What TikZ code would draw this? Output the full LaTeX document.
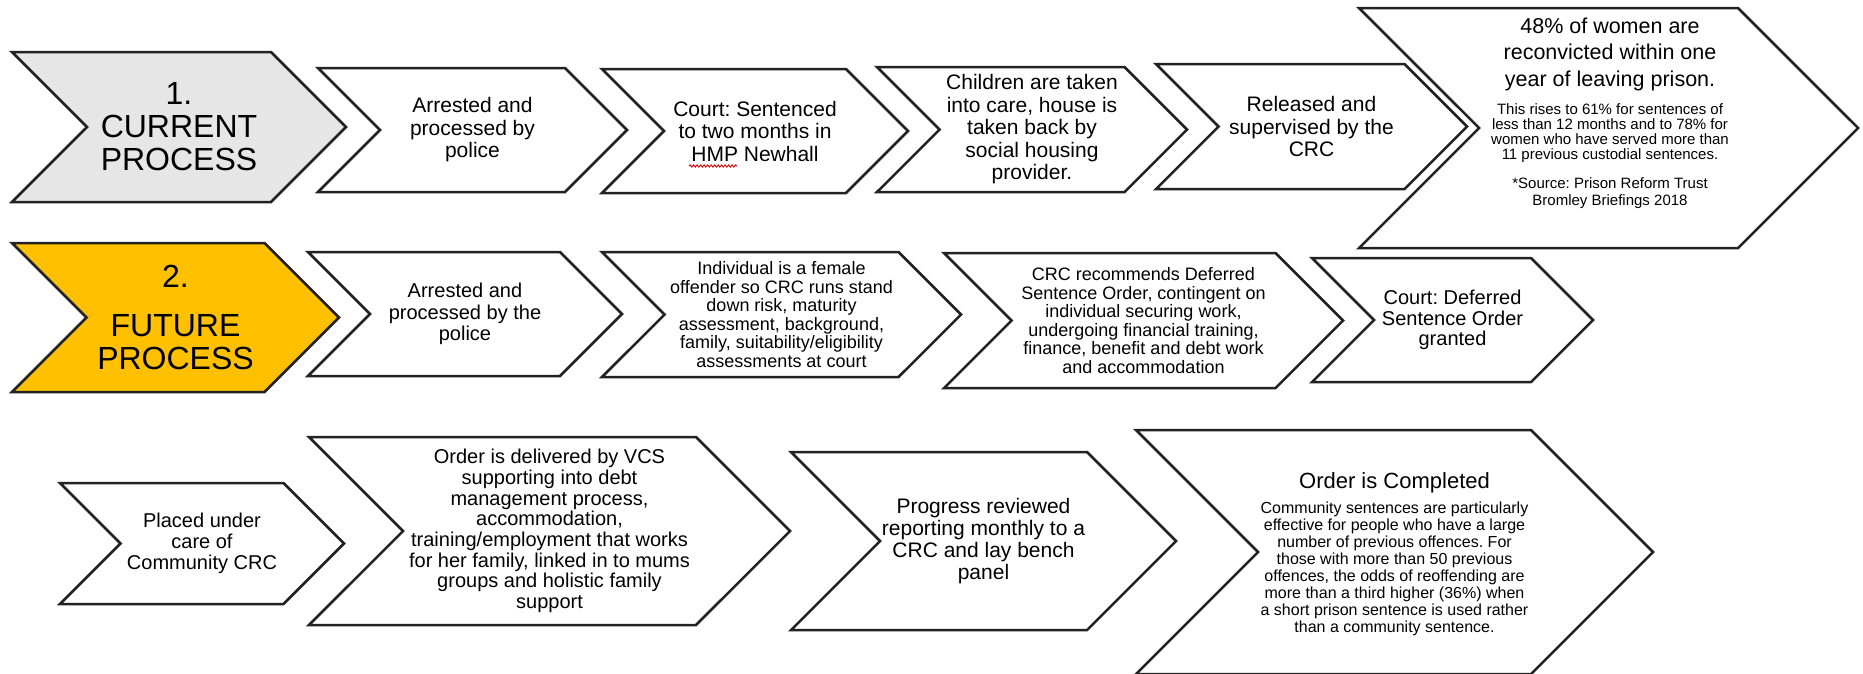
\documentclass[tikz,border=0pt]{standalone}
\usepackage{fontspec}
\setmainfont{Liberation Sans}
\usetikzlibrary{shapes.symbols,positioning,decorations.pathmorphing}
\frenchspacing

\definecolor{headgray}{HTML}{E7E6E6}
\definecolor{headgold}{HTML}{FFC000}
\definecolor{edge}{HTML}{222222}

\tikzset{
  chev/.style = {shape = signal, signal from = west, signal to = east,
    draw = edge, line width = 2.5pt, fill = white, align = center,
    inner sep = 0pt},
  fsize/.style 2 args = {font = \fontsize{#1}{#2}\selectfont},
  txt/.style = {align = center, inner sep = 0pt},
  spellwave/.style = {draw = red!85!black, line width = 0.9pt, decorate,
    decoration = {snake, amplitude = 1.1pt, segment length = 3.5pt}}
}

\begin{document}
\begin{tikzpicture}[x = 1pt, y = -1pt]
  \useasboundingbox (0, 0) rectangle (1863, 673);

  % 1. current process
  \node[chev, fill = headgray, minimum width = 334, minimum height = 150, fsize = {32}{33}] (cur) at (179, 127) {1.\\CURRENT\\PROCESS};
  \node[chev, minimum width = 309, minimum height = 124, fsize = {21}{22.5}] (curArrest) at (472.5, 130) {Arrested and\\processed by\\police};
  \node[chev, minimum width = 306, minimum height = 124, fsize = {21}{22.5}] (curCourt) at (755, 131) {Court: Sentenced\\to two months in\\HMP Newhall};
  \draw[spellwave] (689, 166) -- (737, 166);
  \node[chev, minimum width = 310, minimum height = 125, fsize = {21}{22.5}] (curCare) at (1032, 129.5) {Children are taken\\into care, house is\\taken back by\\social housing\\provider.};
  \node[chev, minimum width = 311, minimum height = 125, fsize = {21}{22.5}] (curRelease) at (1311.5, 126.5) {Released and\\supervised by the\\CRC};
  \node[chev, minimum width = 499, minimum height = 240] (curStat) at (1608.5, 128) {};
  \node[txt, fsize = {21.5}{26.5}, anchor = north] (curStatHead) at (1610, 17.5) {48\% of women are\\reconvicted within one\\year of leaving prison.};
  \node[txt, fsize = {15}{14.8}, below = 13pt of curStatHead] (curStatBody) {This rises to 61\% for sentences of\\less than 12 months and to 78\% for\\women who have served more than\\11 previous custodial sentences.};
  \node[txt, fsize = {15}{16.6}, below = 15pt of curStatBody] (curStatSrc) {*Source: Prison Reform Trust\\Bromley Briefings 2018};

  % 2. future process
  \node[chev, fill = headgold, minimum width = 327, minimum height = 149, fsize = {32}{33}] (fut) at (175.5, 317.5) {2.\\[16pt]FUTURE\\PROCESS};
  \node[chev, minimum width = 314, minimum height = 124, fsize = {20}{21.5}] (futArrest) at (465, 314) {Arrested and\\processed by the\\police};
  \node[chev, minimum width = 359, minimum height = 125, fsize = {18}{18.5}] (futAssess) at (781.5, 314.5) {Individual is a female\\offender so CRC runs stand\\down risk, maturity\\assessment, background,\\family, suitability/eligibility\\assessments at court};
  \node[chev, minimum width = 399, minimum height = 135, fsize = {18}{18.5}] (futRecommend) at (1143.5, 320.5) {CRC recommends Deferred\\Sentence Order, contingent on\\individual securing work,\\undergoing financial training,\\finance, benefit and debt work\\and accommodation};
  \node[chev, minimum width = 281, minimum height = 124, fsize = {20}{20.5}] (futCourt) at (1452.5, 320) {Court: Deferred\\Sentence Order\\granted};

  % 2. future process, continued
  \node[chev, minimum width = 284, minimum height = 121, fsize = {20}{21}] (placed) at (202, 543.5) {Placed under\\care of\\Community CRC};
  \node[chev, minimum width = 481, minimum height = 188, fsize = {20}{20.7}] (delivered) at (549.5, 531) {Order is delivered by VCS\\supporting into debt\\management process,\\accommodation,\\training/employment that works\\for her family, linked in to mums\\groups and holistic family\\support};
  \node[chev, minimum width = 385, minimum height = 178, fsize = {21}{22}] (progress) at (983.5, 541) {Progress reviewed\\reporting monthly to a\\CRC and lay bench\\panel};
  \node[chev, minimum width = 517, minimum height = 244] (completed) at (1394.5, 552) {};
  \node[txt, fsize = {22}{24}, anchor = north] (completedHead) at (1394.5, 472) {Order is Completed};
  \node[txt, fsize = {16}{17}, below = 9pt of completedHead] (completedBody) {Community sentences are particularly\\effective for people who have a large\\number of previous offences. For\\those with more than 50 previous\\offences, the odds of reoffending are\\more than a third higher (36\%) when\\a short prison sentence is used rather\\than a community sentence.};
\end{tikzpicture}
\end{document}
